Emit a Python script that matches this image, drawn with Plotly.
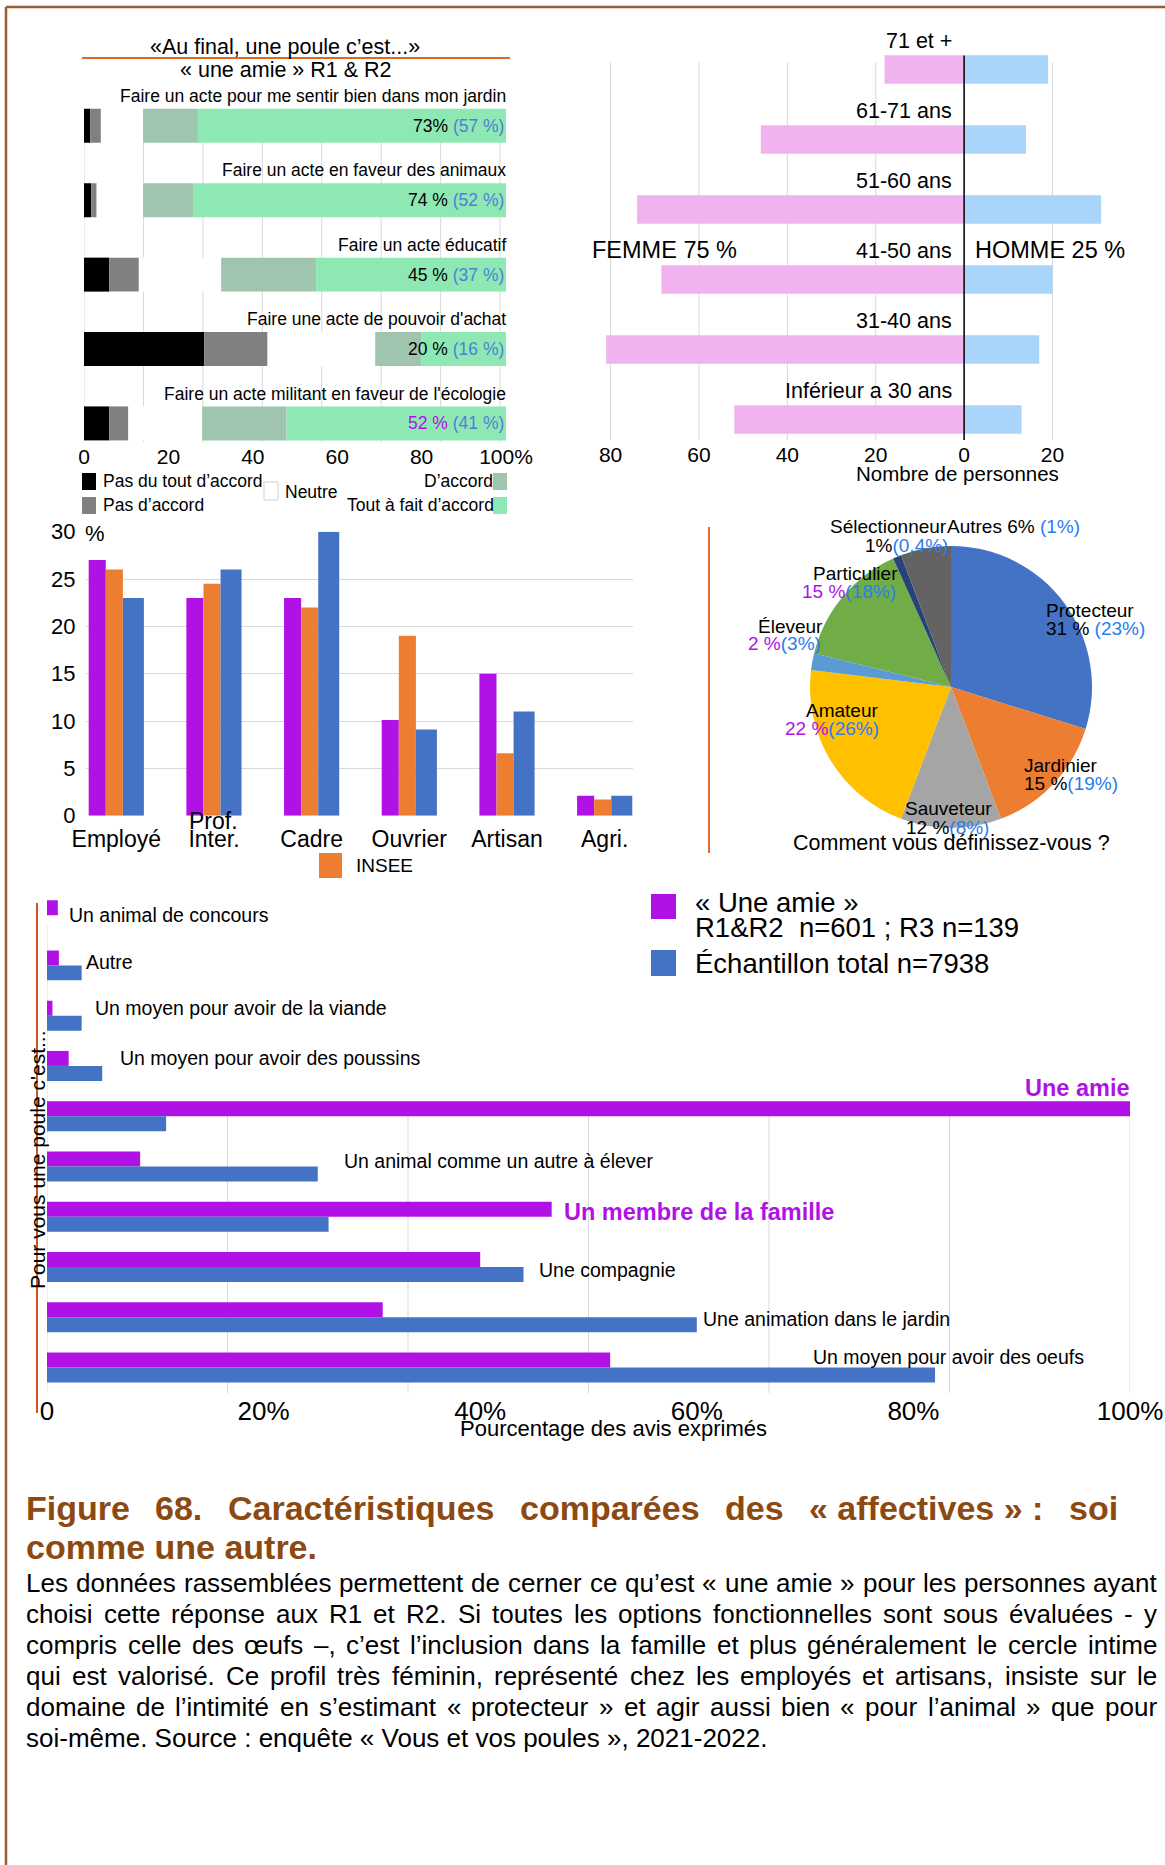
import numpy as np
import plotly.graph_objects as go

W, H = 1165, 1865


def px(x):
    return x / W


def py(y):
    return 1 - y / H


REG = "Liberation Sans, Arial, sans-serif"

PURPLE = "#b012e6"
ORANGE = "#ED7D31"
BLUE = "#4472C4"
TXT_BLUE = "#4f7fd6"
PIE_BLUE = "#2a7cf0"
BROWN = "#8c4a12"
GRID = "#d9d9d9"

# ---------------- data: motivations (stacked agreement) ----------------
acts = [
    "Faire un acte pour me sentir bien dans mon jardin",
    "Faire un acte en faveur des animaux",
    "Faire un acte éducatif",
    "Faire une acte de pouvoir d'achat",
    "Faire un acte militant en faveur de l'écologie",
]
pas_du_tout = [1.5, 1.7, 6, 28.5, 6]
pas_accord = [2.5, 1.3, 7, 15, 4.5]
neutre = [10, 11, 19.5, 25.5, 17.5]
accord = [13, 12, 22.5, 11, 20]
tout_a_fait = [73, 74, 45, 20, 52]
tout_a_fait_total = [57, 52, 37, 16, 41]

# ---------------- data: age pyramid ----------------
ages = ["71 et +", "61-71 ans", "51-60 ans", "41-50 ans", "31-40 ans", "Inférieur a 30 ans"]
femmes = [18, 46, 74, 68.5, 81, 52]
hommes = [19, 14, 31, 20, 17, 13]

# ---------------- data: socio-professional categories ----------------
csp = ["Employé", "Prof. Inter.", "Cadre", "Ouvrier", "Artisan", "Agri."]
csp_amie = [27, 23, 23, 10.1, 15, 2.1]
csp_insee = [26, 24.5, 22, 19, 6.6, 1.7]
csp_total = [23, 26, 30, 9.1, 11, 2.1]

# ---------------- data: self definition (pie) ----------------
roles = ["Protecteur", "Jardinier", "Sauveteur", "Amateur", "Éleveur",
         "Particulier", "Sélectionneur", "Autres"]
roles_amie = [31, 15, 12, 22, 2, 15, 1, 6]
roles_total = [23, 19, 8, 26, 3, 18, 0.4, 1]

# ---------------- data: "pour vous une poule c'est..." ----------------
poule = [
    "Un animal de concours",
    "Autre",
    "Un moyen pour avoir de la viande",
    "Un moyen pour avoir des poussins",
    "Une amie",
    "Un animal comme un autre à élever",
    "Un membre de la famille",
    "Une compagnie",
    "Une animation dans le jardin",
    "Un moyen pour avoir des oeufs",
]
poule_amie = [1, 1.1, 0.5, 2, 100, 8.6, 46.6, 40, 31, 52]
poule_total = [0, 3.2, 3.2, 5.1, 11, 25, 26, 44, 60, 82]

fig = go.Figure()
annotations = []
shapes = []


def note(x, y, text, size, family=REG, color="#000000", xanchor="left",
         yanchor="middle", xref="paper", yref="paper", **kw):
    annotations.append(dict(x=x, y=y, xref=xref, yref=yref, text=text,
                            showarrow=False, xanchor=xanchor, yanchor=yanchor,
                            font=dict(family=family, size=size, color=color),
                            borderpad=0, borderwidth=0, **kw))


def line(x0, y0, x1, y1, color, width, **kw):
    shapes.append(dict(type="line", x0=x0, y0=y0, x1=x1, y1=y1,
                       xref=kw.pop("xref", "paper"), yref=kw.pop("yref", "paper"),
                       line=dict(color=color, width=width), **kw))


def rect(x0, y0, x1, y1, fill, border=None):
    shapes.append(dict(type="rect", x0=px(x0), x1=px(x1), y0=py(y0), y1=py(y1),
                       xref="paper", yref="paper", fillcolor=fill,
                       line=dict(color=border or fill, width=1 if border else 0)))


# Arial / Liberation Sans advance widths (1/1000 em), used to justify paragraphs
_W = {" ": 278, "\u00a0": 278, ".": 278, ",": 278, ":": 278, ";": 278, "-": 333,
      "–": 556, "’": 222, "'": 191, "«": 556, "»": 556, "(": 333, ")": 333,
      "%": 889, "I": 278, "L": 556, "R": 722, "S": 667, "C": 722, "V": 667,
      "F": 611, "É": 667,
      "c": 500, "f": 278, "i": 222, "j": 222, "k": 500, "l": 222, "m": 833,
      "r": 333, "s": 500, "t": 278, "v": 500, "w": 722, "x": 500, "y": 500,
      "z": 500, "î": 278, "ï": 278, "ç": 500, "œ": 944}
_WB = {" ": 278, "\u00a0": 278, ".": 278, ":": 333, "«": 556, "»": 556,
       "F": 611, "C": 722, "i": 278, "r": 389, "t": 333, "f": 333, "m": 889,
       "s": 556, "c": 556, "v": 556, "g": 611, "u": 611, "q": 611, "o": 611,
       "p": 611, "d": 611}


def text_width(s, size, bold=False):
    table = _WB if bold else _W
    return sum(table.get(ch, 556) for ch in s) * size / 1000


def justified(words, left, right, yc, size, color="#000000", bold=False):
    widths = [text_width(w, size, bold) for w in words]
    gap = (right - left - sum(widths)) / (len(words) - 1)
    x = left
    for w, wd in zip(words, widths):
        note(px(x), py(yc), f"<b>{w}</b>" if bold else w, size, REG, color)
        x += wd + gap


# ====== Panel 1: stacked agreement bars ======
rows1 = np.arange(len(acts))[::-1]
bar_w1 = 0.457
segments = [
    (pas_du_tout, "#000000"),
    (pas_accord, "#808080"),
    (neutre, "#ffffff"),
    (accord, "#a0c5ae"),
    (tout_a_fait, "#8ee8b4"),
]
base = np.zeros(len(acts))
for vals, col in segments:
    v = np.array(vals, dtype=float)
    fig.add_trace(go.Bar(x=v, y=rows1, base=base.copy(), orientation="h",
                         width=bar_w1, offset=-bar_w1 / 2, marker_color=col,
                         marker_line_width=0, xaxis="x", yaxis="y",
                         showlegend=False, hoverinfo="skip"))
    base += v

for k in range(8):
    line(k * 100 / 7.1, -0.25, k * 100 / 7.1, 4.23, GRID, 1, xref="x", yref="y",
         layer="below")

first_cols = ["#000000"] * 4 + [PURPLE]
seps = ["", " ", " ", " ", " "]
for r, name, v, t, c, s in zip(rows1, acts, tout_a_fait, tout_a_fait_total, first_cols, seps):
    note(100, r + 0.40, name, 17.5, xanchor="right", xref="x", yref="y")
    note(99.6, r, f"<span style='color:{c}'>{v}{s}%</span>"
                  f"<span style='color:{TXT_BLUE}'> ({t} %)</span>",
         17.5, xanchor="right", xref="x", yref="y")

note(px(285), py(47), "«Au final, une poule c’est...»", 21.5, xanchor="center")
line(px(82), py(58), px(510), py(58), "#dc6a22", 2)
note(px(286), py(70), "« une amie » R1 &amp; R2", 21.5, xanchor="center")

# legend of the agreement scale
rect(82, 473, 96, 490, "#000000")
rect(82, 497, 96, 514, "#808080")
rect(264, 482, 278, 500, "#ffffff", "#d0d0d0")
rect(493, 473, 507, 490, "#a0c5ae")
rect(493, 497, 507, 514, "#8ee8b4")
note(px(103), py(481), "Pas du tout d’accord", 17.5)
note(px(103), py(505), "Pas d’accord", 17.5)
note(px(285), py(492), "Neutre", 17.5)
note(px(493), py(481), "D’accord", 17.5, xanchor="right")
note(px(494), py(505), "Tout à fait d’accord", 17.5, xanchor="right")

# ====== Panel 2: age pyramid ======
rows2 = np.arange(len(ages))[::-1]
bar_w2 = 0.407
fig.add_trace(go.Bar(x=-np.array(femmes), y=rows2, orientation="h", width=bar_w2,
                     offset=-bar_w2 / 2, marker_color="#f0b3f0", marker_line_width=0,
                     xaxis="x2", yaxis="y2", showlegend=False, hoverinfo="skip"))
fig.add_trace(go.Bar(x=hommes, y=rows2, orientation="h", width=bar_w2,
                     offset=-bar_w2 / 2, marker_color="#a9d5fa", marker_line_width=0,
                     xaxis="x2", yaxis="y2", showlegend=False, hoverinfo="skip"))
pyr_ticks = [-80, -60, -40, -20, 0, 20]
for v in pyr_ticks:
    line(v, -0.293, v, 5.1, GRID, 1, xref="x2", yref="y2", layer="below")
line(0, -0.293, 0, 5.2, "#000000", 1.5, xref="x2", yref="y2")
for r, a in zip(rows2, ages):
    note(-2.7, r + 0.40, a, 21.5, xanchor="right", xref="x2", yref="y2")
note(px(592), py(250), "FEMME 75 %", 23.5)
note(px(975), py(250), "HOMME 25 %", 23.5)
note(px(957), py(473), "Nombre de personnes", 20.5, xanchor="center")

# ====== Panel 3: socio-professional categories ======
grp = [(csp_amie, PURPLE, 0.175, -0.2825),
       (csp_insee, ORANGE, 0.175, -0.1075),
       (csp_total, BLUE, 0.215, 0.0675)]
for vals, col, w, off in grp:
    fig.add_trace(go.Bar(x=csp, y=vals, width=w, offset=off, marker_color=col,
                         marker_line_width=0, xaxis="x3", yaxis="y3",
                         showlegend=False, hoverinfo="skip"))
for c in csp:
    words = c.split(" ")
    if len(words) > 1:
        note(c, py(821), words[0], 23, xanchor="center", xref="x3")
note(px(85), py(533), "%", 22)
rect(319, 853, 342, 878, ORANGE)
note(px(356), py(866), "INSEE", 19)

# ====== Panel 4: pie ======
pie_cols = ["#4472C4", "#ED7D31", "#A5A5A5", "#FFC000", "#5B9BD5",
            "#70AD47", "#264478", "#636363"]
fig.add_trace(go.Pie(values=roles_amie, labels=roles, sort=False,
                     direction="clockwise", rotation=0, textinfo="none",
                     marker=dict(colors=pie_cols, line=dict(width=0)),
                     domain=dict(x=[px(810), px(1092)], y=[py(828), py(546)]),
                     showlegend=False, hoverinfo="skip"))


def fr(v):
    return str(v).replace(".", ",")


# label anchors (left x, name y, value y) and colour of the first figure
pie_text = {
    "Protecteur": (1046, 610, 628, "#000000", " "),
    "Jardinier": (1024, 765, 783, "#000000", ""),
    "Sauveteur": (905, 808, 827, "#000000", ""),
    "Amateur": (806, 710, 728, PURPLE, ""),
    "Éleveur": (758, 626, 643, PURPLE, ""),
    "Particulier": (813, 573, 592, PURPLE, ""),
    "Sélectionneur": (830, 527, 545, "#000000", ""),
}
val_left = {"Amateur": 785, "Éleveur": 748, "Particulier": 802, "Sauveteur": 906,
            "Sélectionneur": 865}
for name, amie, tot in zip(roles, roles_amie, roles_total):
    if name == "Autres":
        note(px(947), py(527), f"{name} {amie}% <span style='color:{PIE_BLUE}'>({fr(tot)}%)</span>",
             19)
        continue
    x0, yn, yv, col, sp = pie_text[name]
    unit = "%" if name == "Sélectionneur" else " %"
    note(px(x0), py(yn), name, 19)
    note(px(val_left.get(name, x0)), py(yv),
         f"<span style='color:{col}'>{amie}{unit}</span>{sp}"
         f"<span style='color:{PIE_BLUE}'>({fr(tot)}%)</span>", 19)
note(px(952), py(843), "Comment vous définissez-vous ?", 21.5, xanchor="center")
line(px(709), py(527), px(709), py(853), "#e0702e", 2)

# ====== Panel 5: what a hen is ======
rows5 = np.arange(len(poule))[::-1]
bar_w5 = 0.298
fig.add_trace(go.Bar(x=poule_amie, y=rows5, orientation="h", width=bar_w5, offset=0,
                     marker_color=PURPLE, marker_line_width=0, xaxis="x4", yaxis="y4",
                     showlegend=False, hoverinfo="skip"))
fig.add_trace(go.Bar(x=poule_total, y=rows5, orientation="h", width=bar_w5,
                     offset=-bar_w5, marker_color=BLUE, marker_line_width=0,
                     xaxis="x4", yaxis="y4", showlegend=False, hoverinfo="skip"))
for k in range(7):
    top = 926 if k == 0 else 1110
    line(k * 100 / 6, py(top), k * 100 / 6, py(1393), GRID, 1, xref="x4", layer="below")

# label gap after the longest bar and vertical shift (row units)
label_gap = [1.0, 0.4, 1.2, 1.6, None, 2.4, 1.1, 1.4, 0.6, None]
label_dy = [0.0, 0.07, 0.145, 0.165, 0.557, 0.1, 0.093, -0.06, -0.04, 0.215]
for i, (name, a, t, r) in enumerate(zip(poule, poule_amie, poule_total, rows5)):
    if name == "Une amie":
        note(a, r + label_dy[i], f"<b>{name}</b>", 23.5, REG, PURPLE,
             xanchor="right", xref="x4", yref="y4")
    elif name == "Un membre de la famille":
        note(a + label_gap[i], r + label_dy[i], f"<b>{name}</b>", 23.5, REG, PURPLE,
             xref="x4", yref="y4")
    elif label_gap[i] is None:
        note(a + 18.7, r + label_dy[i], name, 19.5, xref="x4", yref="y4")
    else:
        note(max(a, t) + label_gap[i], r + label_dy[i], name, 19.5,
             xref="x4", yref="y4")

line(px(37), py(903), px(37), py(1413), "#c8581e", 2)
note(px(37), py(1160), "Pour vous une poule c'est...", 21, xanchor="center",
     textangle=-90)
note(px(614), py(1428), "Pourcentage des avis exprimés", 22, xanchor="center")

rect(651, 894, 676, 919, PURPLE)
rect(651, 950, 676, 976, BLUE)
note(px(695), py(903), "« Une amie »", 27.5)
note(px(695), py(927), "R1&amp;R2\u00a0\u00a0n=601 ; R3 n=139", 27.5)
note(px(695), py(963), "Échantillon total n=7938", 27.5)

# ====== caption ======
cap1 = ["Figure", "68.", "Caractéristiques", "comparées", "des",
        "«\u00a0affectives\u00a0»\u00a0:", "soi"]
justified(cap1, 26, 1118, 1508, 34, BROWN, bold=True)
note(px(26), py(1547), "<b>comme une autre.</b>", 34, REG, BROWN)

body = [
    "Les données rassemblées permettent de cerner ce qu’est « une amie » pour les personnes ayant",
    "choisi cette réponse aux R1 et R2. Si toutes les options fonctionnelles sont sous évaluées - y",
    "compris celle des œufs –, c’est l’inclusion dans la famille et plus généralement le cercle intime",
    "qui est valorisé. Ce profil très féminin, représenté chez les employés et artisans, insiste sur le",
    "domaine de l’intimité en s’estimant « protecteur » et agir aussi bien « pour l’animal » que pour",
    "soi-même. Source : enquête « Vous et vos poules », 2021-2022.",
]
for i, t in enumerate(body):
    yc = 1583 + 30.9 * i
    if i < len(body) - 1:
        justified(t.split(" "), 26, 1157, yc, 26)
    else:
        note(px(26), py(yc), t, 26)

# page frame
line(px(6), py(7), px(1165), py(7), "#9c5b2e", 2.5)
line(px(6), py(7), px(6), py(1865), "#9c5b2e", 2.5)

hidden = dict(visible=False, automargin=False, showgrid=False, zeroline=False)
fig.update_layout(
    template="none",
    width=W, height=H, margin=dict(l=0, r=0, t=0, b=0, autoexpand=False),
    paper_bgcolor="white", plot_bgcolor="rgba(0,0,0,0)",
    barmode="overlay", showlegend=False,
    annotations=annotations, shapes=shapes,
    xaxis=dict(domain=[px(84), px(506)], range=[0, 100], anchor="y",
               tickvals=[0, 20, 40, 60, 80, 100],
               ticktext=["0", "20", "40", "60", "80", "100%"],
               tickfont=dict(family=REG, size=21, color="#000"),
               showgrid=False, zeroline=False, showline=False, ticks="",
               automargin=False),
    yaxis=dict(domain=[py(442), py(442 - 4.9 * 74.39)], range=[-0.25, 4.65],
               anchor="x", **hidden),
    xaxis2=dict(domain=[px(592), px(1140)], range=[-84.2, 39.8], anchor="y2",
                tickvals=pyr_ticks, ticktext=[str(abs(v)) for v in pyr_ticks],
                tickfont=dict(family=REG, size=21, color="#000"),
                showgrid=False, zeroline=False, showline=False, ticks="",
                automargin=False),
    yaxis2=dict(domain=[py(440), py(440 - 5.893 * 70)], range=[-0.293, 5.6],
                anchor="x2", **hidden),
    xaxis3=dict(domain=[px(86), px(633)], type="category", range=[-0.31, 5.29],
                anchor="y3", tickvals=csp, ticktext=[c.split(" ")[-1] for c in csp],
                tickfont=dict(family=REG, size=23, color="#000"),
                showgrid=False, showline=False, zeroline=False,
                ticks="outside", ticklen=3, tickcolor="rgba(0,0,0,0)",
                automargin=False),
    yaxis3=dict(domain=[py(815.7), py(531.7)], range=[0, 30], anchor="x3",
                tickvals=[0, 5, 10, 15, 20, 25, 30],
                tickfont=dict(family=REG, size=22, color="#000"),
                showgrid=True, gridcolor=GRID, gridwidth=1, zeroline=False,
                showline=False, ticks="outside", ticklen=5,
                tickcolor="rgba(0,0,0,0)", automargin=False),
    xaxis4=dict(domain=[px(47), px(1130)], range=[0, 100], anchor="y4",
                tickvals=[0, 20, 40, 60, 80, 100],
                ticktext=["0", "20%", "40%", "60%", "80%", "100%"],
                tickfont=dict(family=REG, size=26, color="#000"),
                showgrid=False, zeroline=False, showline=False, ticks="",
                automargin=False),
    yaxis4=dict(domain=[py(1392.6), py(890)], range=[-0.5, 9.5], anchor="x4",
                **hidden),
)

fig.write_html("out.html")
